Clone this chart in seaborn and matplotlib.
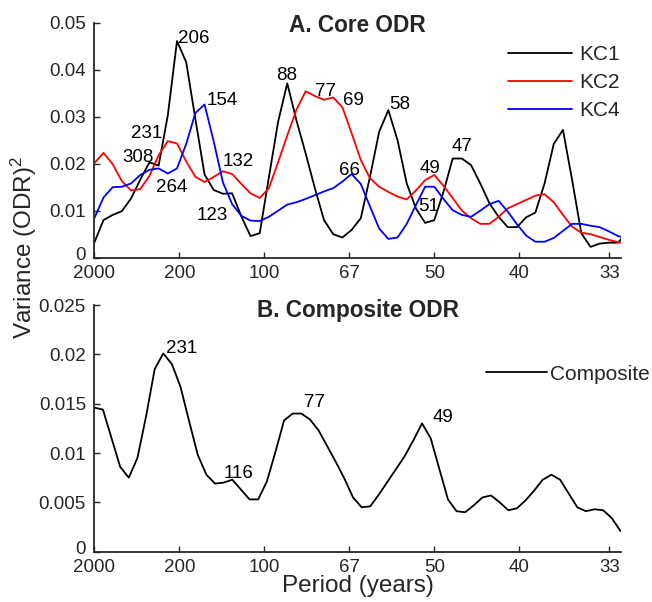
import numpy as np
import pandas as pd
import matplotlib
matplotlib.use("Agg")
import matplotlib.pyplot as plt
import matplotlib.transforms as mtransforms
import seaborn as sns

# ---------------------------------------------------------------------------
# Spectral variance of the ODR records, sampled at harmonic frequencies k / N
# ---------------------------------------------------------------------------
core_record_years = 1850        # harmonic spacing of the individual cores
composite_record_years = 1971   # harmonic spacing of the composite

kc1 = [0.0032, 0.0080, 0.0091, 0.0099, 0.0126, 0.0166, 0.0203, 0.0196, 0.0303, 0.0461,
       0.0416, 0.0295, 0.0177, 0.0144, 0.0136, 0.0137, 0.0088, 0.0046, 0.0052, 0.0171,
       0.0289, 0.0371, 0.0292, 0.0222, 0.0148, 0.0080, 0.0050, 0.0043, 0.0059, 0.0084,
       0.0172, 0.0268, 0.0314, 0.0250, 0.0158, 0.0105, 0.0074, 0.0080, 0.0140, 0.0211,
       0.0211, 0.0197, 0.0158, 0.0116, 0.0087, 0.0065, 0.0065, 0.0086, 0.0096, 0.0158,
       0.0242, 0.0272, 0.0165, 0.0052, 0.0023, 0.0030, 0.0032, 0.0032, 0.0055]

kc2 = [0.0201, 0.0223, 0.0199, 0.0163, 0.0143, 0.0146, 0.0174, 0.0218, 0.0248, 0.0243,
       0.0205, 0.0172, 0.0161, 0.0172, 0.0184, 0.0178, 0.0157, 0.0137, 0.0127, 0.0148,
       0.0203, 0.0260, 0.0315, 0.0354, 0.0344, 0.0336, 0.0341, 0.0320, 0.0265, 0.0208,
       0.0169, 0.0151, 0.0140, 0.0130, 0.0124, 0.0143, 0.0165, 0.0176, 0.0153, 0.0127,
       0.0100, 0.0084, 0.0072, 0.0072, 0.0087, 0.0105, 0.0114, 0.0123, 0.0132, 0.0135,
       0.0118, 0.0091, 0.0066, 0.0053, 0.0050, 0.0044, 0.0038, 0.0033, 0.0030]

kc4 = [0.0084, 0.0128, 0.0150, 0.0151, 0.0158, 0.0176, 0.0187, 0.0190, 0.0179, 0.0190,
       0.0242, 0.0308, 0.0326, 0.0247, 0.0160, 0.0114, 0.0089, 0.0079, 0.0078, 0.0087,
       0.0100, 0.0113, 0.0118, 0.0125, 0.0133, 0.0141, 0.0148, 0.0162, 0.0178, 0.0157,
       0.0109, 0.0062, 0.0040, 0.0043, 0.0072, 0.0112, 0.0151, 0.0151, 0.0125, 0.0101,
       0.0091, 0.0087, 0.0100, 0.0114, 0.0121, 0.0098, 0.0071, 0.0047, 0.0034, 0.0034,
       0.0042, 0.0057, 0.0072, 0.0072, 0.0068, 0.0065, 0.0056, 0.0046, 0.0041]

composite = [0.0146, 0.0144, 0.0115, 0.0086, 0.0075, 0.0095, 0.0137, 0.0185, 0.0201, 0.0190,
             0.0167, 0.0132, 0.0098, 0.0078, 0.0069, 0.0070, 0.0073, 0.0063, 0.0053, 0.0053,
             0.0071, 0.0101, 0.0133, 0.0140, 0.0140, 0.0134, 0.0123, 0.0107, 0.0091, 0.0074,
             0.0055, 0.0045, 0.0046, 0.0058, 0.0071, 0.0084, 0.0097, 0.0113, 0.0130, 0.0115,
             0.0084, 0.0053, 0.0041, 0.0040, 0.0047, 0.0055, 0.0057, 0.0050, 0.0042, 0.0044,
             0.0052, 0.0062, 0.0073, 0.0078, 0.0073, 0.0059, 0.0045, 0.0041, 0.0043, 0.0042,
             0.0034, 0.0021]

core_names = ["KC1", "KC2", "KC4"]
core_colors = {"KC1": "black", "KC2": "red", "KC4": "blue"}

# Period axis: tick positions in frequency (1/yr) with their period labels
period_tick_freqs = [0.0, 0.005, 0.01, 0.015, 0.02, 0.025, 1 / 33]
period_tick_labels = ["2000", "200", "100", "67", "50", "40", "33"]

ticks_a = [0, 0.01, 0.02, 0.03, 0.04, 0.05]
ticklabels_a = ["0", "0.01", "0.02", "0.03", "0.04", "0.05"]
ticks_b = [0, 0.005, 0.01, 0.015, 0.02, 0.025]
ticklabels_b = ["0", "0.005", "0.01", "0.015", "0.02", "0.025"]

# Peak period labels: (period, baseline height, alignment, x nudge in px)
peaks_a = [(206, 0.0457, "left", 1.5), (154, 0.0325, "left", 2), (231, 0.0254, "right", -6),
           (308, 0.0204, "right", 4), (264, 0.0140, "left", -3), (132, 0.0196, "left", 0),
           (123, 0.0080, "right", -5), (88, 0.0378, "center", -1), (77, 0.0343, "left", 0),
           (69, 0.0325, "left", 2), (66, 0.0176, "center", -2), (58, 0.0316, "left", 2),
           (49, 0.0180, "right", -1), (51, 0.0100, "center", 1), (47, 0.0226, "left", -4)]
peaks_b = [(231, 0.0201, "left", -2), (116, 0.00744, "center", -2),
           (77, 0.0147, "center", -1), (49, 0.01318, "center", 2)]

# ---------------------------------------------------------------------------
core_freq = np.arange(len(kc1)) / core_record_years
comp_freq = np.arange(len(composite)) / composite_record_years
core_df = pd.DataFrame({"freq": core_freq, "KC1": kc1, "KC2": kc2, "KC4": kc4})
comp_df = pd.DataFrame({"freq": comp_freq, "Composite": composite})

sns.set_style("ticks")
plt.rcParams["font.family"] = ["Liberation Sans", "DejaVu Sans"]
plt.rcParams["mathtext.fontset"] = "custom"
plt.rcParams["mathtext.rm"] = "Liberation Sans"
plt.rcParams["mathtext.it"] = "Liberation Sans:italic"

W, H, DPI = 652, 602, 100
fig = plt.figure(figsize=(W / DPI, H / DPI), dpi=DPI)
fig.patch.set_facecolor("white")


def px_axes(left, top, right, bottom):
    return fig.add_axes([left / W, 1 - bottom / H, (right - left) / W, (bottom - top) / H])


ax_a = px_axes(94.3, 22.7, 621.3, 257.7)
ax_b = px_axes(94.3, 305.0, 621.3, 551.7)

LW = 1.3
GREY = "#262626"
for name in core_names:
    sns.lineplot(data=core_df, x="freq", y=name, color=core_colors[name], label=name,
                 linewidth=LW, ax=ax_a)
sns.lineplot(data=comp_df, x="freq", y="Composite", color="black", label="Composite",
             linewidth=LW, ax=ax_b)

# small upward nudge for the "0" label so it clears the "2000" below it
zero_lift = mtransforms.ScaledTranslation(0, 4.5 / DPI, fig.dpi_scale_trans)

for ax, yt, ytl, ylim in [(ax_a, ticks_a, ticklabels_a, 0.05), (ax_b, ticks_b, ticklabels_b, 0.025)]:
    ax.set_xlim(0, 0.031)
    ax.set_ylim(0, ylim)
    ax.set_xticks(period_tick_freqs)
    ax.set_xticklabels(period_tick_labels)
    ax.set_yticks(yt)
    ax.set_yticklabels(ytl)
    ax.set_xlabel("")
    ax.set_ylabel("")
    ax.set_facecolor("none")
    for side in ["top", "right"]:
        ax.spines[side].set_visible(False)
    for side in ["left", "bottom"]:
        ax.spines[side].set_linewidth(1.3)
        ax.spines[side].set_color(GREY)
    ax.tick_params(direction="in", length=4, width=1.0, colors=GREY, labelsize=13.5,
                   labelcolor=GREY)
    ax.tick_params(axis="x", pad=5)
    ax.tick_params(axis="y", pad=6)
    first = ax.get_yticklabels()[0]
    first.set_transform(first.get_transform() + zero_lift)

ax_a.text(0.5, 0.9617, "A. Core ODR", transform=ax_a.transAxes, ha="center",
          va="baseline", fontsize=16.3, fontweight="bold")
ax_b.text(0.5, 0.9526, "B. Composite ODR", transform=ax_b.transAxes, ha="center",
          va="baseline", fontsize=16.3, fontweight="bold")

for ax, peaks in [(ax_a, peaks_a), (ax_b, peaks_b)]:
    for period, yb, ha, dx in peaks:
        ax.annotate(str(period), xy=(1 / period, yb), xytext=(dx * 72 / DPI, 0),
                    textcoords="offset points", ha=ha, va="baseline", fontsize=13.5,
                    color="black")

ax_a.legend(loc="upper left", bbox_to_anchor=(508.3 / W, 1 - 45.5 / H),
            bbox_transform=fig.transFigure, frameon=False, borderpad=0, borderaxespad=0,
            handlelength=3.05, handletextpad=0.36, labelspacing=0.42, fontsize=15)
ax_b.legend(loc="upper left", bbox_to_anchor=(485.7 / W, 1 - 364.5 / H),
            bbox_transform=fig.transFigure, frameon=False, borderpad=0, borderaxespad=0,
            handlelength=2.95, handletextpad=0.12, fontsize=15)

fig.text(24 / W, 1 - 247 / H, "Variance (ODR)$^2$", rotation=90, ha="center", va="center",
         fontsize=17.5, color=GREY)
fig.text(357.8 / W, 1 - 591.7 / H, "Period (years)", ha="center", va="baseline",
         fontsize=17.5, color=GREY)

fig.savefig("out.png", dpi=DPI, facecolor="white")
